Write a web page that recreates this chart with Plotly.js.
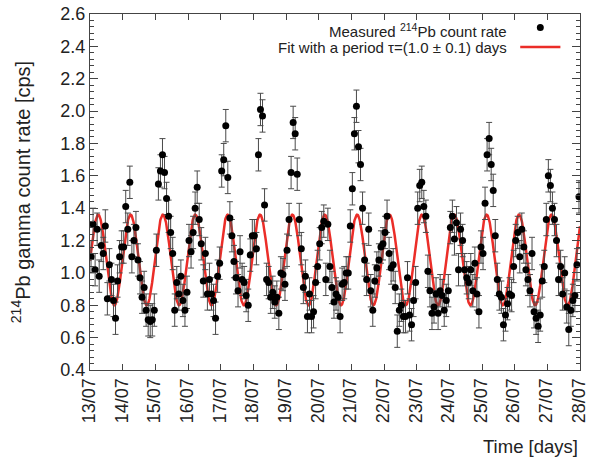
<!DOCTYPE html>
<html>
<head>
<meta charset="utf-8">
<script src="https://cdn.plot.ly/plotly-3.0.1.min.js"></script>
<style>html,body{margin:0;padding:0;background:#fff;}#chart{width:590px;height:465px;}</style>
</head>
<body>
<div id="chart"></div>
<script>
// Tick labels (one per day, 13/07 .. 28/07)
const dayLabels = ["13/07","14/07","15/07","16/07","17/07","18/07","19/07","20/07",
                   "21/07","22/07","23/07","24/07","25/07","26/07","27/07","28/07"];

// Measured 214Pb count rate [cps], 16 samples per day (1.5 h bins)
const rate_13_07 = [1.10, 1.30, 1.02, 1.27, 0.98, 1.17, 1.12, 1.29, 0.84, 1.05, 0.96, 0.83, 0.72, 0.95, 1.10, 1.16];
const rate_14_07 = [1.16, 1.41, 1.27, 1.56, 1.10, 1.20, 1.28, 1.08, 0.97, 0.85, 0.91, 0.77, 0.71, 0.70, 0.71, 0.77];
const rate_15_07 = [1.14, 1.55, 1.63, 1.73, 1.62, 1.46, 1.35, 1.25, 1.12, 0.77, 0.94, 0.87, 0.98, 0.83, 0.77, 0.88];
const rate_16_07 = [1.20, 1.13, 1.25, 1.40, 1.53, 1.33, 1.18, 0.95, 1.12, 0.87, 0.96, 0.87, 0.83, 0.72, 0.98, 1.06];
const rate_17_07 = [1.63, 1.70, 1.91, 1.59, 1.34, 1.23, 1.07, 0.97, 0.89, 1.13, 0.96, 0.94, 0.86, 0.80, 1.11, 1.23];
const rate_18_07 = [1.23, 1.15, 1.73, 2.01, 1.97, 1.42, 0.96, 0.94, 0.85, 0.88, 0.82, 0.85, 0.75, 1.00, 0.99, 0.93];
const rate_19_07 = [1.14, 1.33, 1.62, 1.93, 1.86, 1.61, 1.33, 1.15, 0.91, 0.98, 0.73, 0.87, 0.73, 0.76, 0.94, 1.04];
const rate_20_07 = [1.18, 1.28, 1.32, 0.96, 1.30, 1.04, 0.91, 0.82, 0.87, 0.85, 0.73, 0.93, 0.94, 1.00, 1.00, 1.29];
const rate_21_07 = [1.52, 1.86, 2.03, 1.78, 1.67, 1.40, 1.08, 0.96, 1.27, 0.89, 0.77, 0.95, 1.03, 1.08, 1.16, 1.18];
const rate_22_07 = [1.25, 1.35, 1.12, 1.03, 1.05, 0.91, 0.64, 0.77, 0.80, 0.73, 0.73, 0.97, 0.74, 0.68, 0.83, 0.94];
const rate_23_07 = [1.40, 1.54, 1.56, 1.41, 1.35, 1.01, 0.89, 0.75, 0.79, 0.87, 0.75, 0.89, 0.86, 0.77, 0.83, 0.89];
const rate_24_07 = [1.28, 1.35, 1.21, 1.31, 1.02, 1.27, 1.20, 1.02, 0.97, 0.94, 1.02, 0.89, 1.06, 0.87, 0.76, 1.16];
const rate_25_07 = [1.12, 1.43, 1.73, 1.83, 1.67, 1.51, 1.23, 0.96, 0.87, 0.85, 0.68, 0.74, 0.81, 0.87, 0.86, 1.04];
const rate_26_07 = [1.20, 1.25, 1.10, 1.27, 1.16, 1.02, 0.96, 0.89, 1.12, 0.76, 0.72, 0.67, 0.74, 0.95, 1.04, 1.33];
const rate_27_07 = [1.60, 1.54, 1.40, 1.33, 1.20, 0.96, 1.04, 0.87, 1.00, 0.79, 0.65, 0.77, 0.83, 0.86, 1.05, 1.47];

const rateError = 0.10;   // statistical error on each point [cps]

// Fit parameters (sinusoid with period tau ~ 1 day)
const fitOffset = 1.08;
const fitAmplitude = 0.28;
const fitPeriod = 0.991;
const fitPeakDay = 0.25;

// ---- build traces ----
const dailyRates = [rate_13_07, rate_14_07, rate_15_07, rate_16_07, rate_17_07, rate_18_07, rate_19_07,
                    rate_20_07, rate_21_07, rate_22_07, rate_23_07, rate_24_07, rate_25_07, rate_26_07, rate_27_07];
const tx = [], ty = [];
dailyRates.forEach((arr, d) => {
  arr.forEach((v, i) => { tx.push(d + (i + 0.5) / arr.length); ty.push(v); });
});

const fx = [], fy = [];
for (let t = 0; t <= 15.0001; t += 0.01) {
  fx.push(t);
  fy.push(fitOffset + fitAmplitude * Math.cos(2 * Math.PI * (t - fitPeakDay) / fitPeriod));
}

const FONT = 'Liberation Sans, Arial, Helvetica, sans-serif';
const AX = '#444';

const dataTrace = {
  x: tx, y: ty, type: 'scatter', mode: 'markers',
  name: 'Measured <sup>214</sup>Pb count rate',
  marker: {color: '#000', size: 7},
  error_y: {type: 'constant', value: rateError, color: '#4a4a4a', thickness: 1, width: 3},
  showlegend: false, cliponaxis: true
};
const fitTrace = {
  x: fx, y: fy, type: 'scatter', mode: 'lines',
  name: 'Fit with a period τ=(1.0 ± 0.1) days',
  line: {color: 'rgb(235,45,40)', width: 2.5},
  showlegend: false
};

const layout = {
  width: 590, height: 465,
  margin: {l: 90, r: 10, t: 14, b: 95},
  paper_bgcolor: '#fff', plot_bgcolor: '#fff',
  font: {family: FONT, color: '#222'},
  showlegend: false,
  xaxis: {
    range: [-0.0001, 15.0001],
    tickmode: 'array',
    tickvals: dayLabels.map((_, i) => i),
    ticktext: dayLabels,
    tickangle: -90,
    ticklabeloverflow: 'allow',
    ticklabelshift: -1,
    ticks: 'inside', ticklen: 6, tickcolor: AX, tickwidth: 1,
    showline: true, linecolor: AX, linewidth: 1, mirror: 'ticks',
    showgrid: false, zeroline: false,
    tickfont: {family: FONT, size: 18, color: '#222'}
  },
  yaxis: {
    range: [0.4, 2.6],
    tick0: 0.4, dtick: 0.2, tickformat: '.1f',
    ticks: 'inside', ticklen: 8, tickcolor: AX, tickwidth: 1,
    ticklabeloverflow: 'allow',
    minor: {dtick: 0.04, ticks: 'inside', ticklen: 4, tickcolor: AX, tickwidth: 1, showgrid: false},
    showline: true, linecolor: AX, linewidth: 1, mirror: 'ticks',
    showgrid: false, zeroline: false,
    tickfont: {family: FONT, size: 18, color: '#222'},
    title: {text: '<sup>214</sup>Pb gamma count rate [cps]', font: {family: FONT, size: 20, color: '#222'}, standoff: 24}
  },
  annotations: [
    {text: 'Time [days]', xref: 'paper', yref: 'paper', x: 1, y: -0.215, xanchor: 'right', yanchor: 'middle',
     showarrow: false, font: {family: FONT, size: 18.5, color: '#222'}},
    {text: 'Measured <sup>214</sup>Pb count rate', xref: 'paper', yref: 'paper', x: 0.855, y: 0.955,
     xanchor: 'right', yanchor: 'middle', showarrow: false, font: {family: FONT, size: 15, color: '#222'}},
    {text: 'Fit with a period τ=(1.0 ± 0.1) days', xref: 'paper', yref: 'paper', x: 0.855, y: 0.907,
     xanchor: 'right', yanchor: 'middle', showarrow: false, font: {family: FONT, size: 15, color: '#222'}}
  ],
  shapes: [
    {type: 'circle', xref: 'paper', yref: 'paper', xsizemode: 'pixel', ysizemode: 'pixel',
     xanchor: 0.919, yanchor: 0.962, x0: -3.5, x1: 3.5, y0: -3.5, y1: 3.5,
     fillcolor: '#000', line: {color: '#000', width: 0}},
    {type: 'line', xref: 'paper', yref: 'paper', x0: 0.878, x1: 0.960, y0: 0.907, y1: 0.907,
     line: {color: 'rgb(235,45,40)', width: 2.5}}
  ]
};

Plotly.newPlot('chart', [fitTrace, dataTrace], layout, {displayModeBar: false, staticPlot: true});
</script>
</body>
</html>
